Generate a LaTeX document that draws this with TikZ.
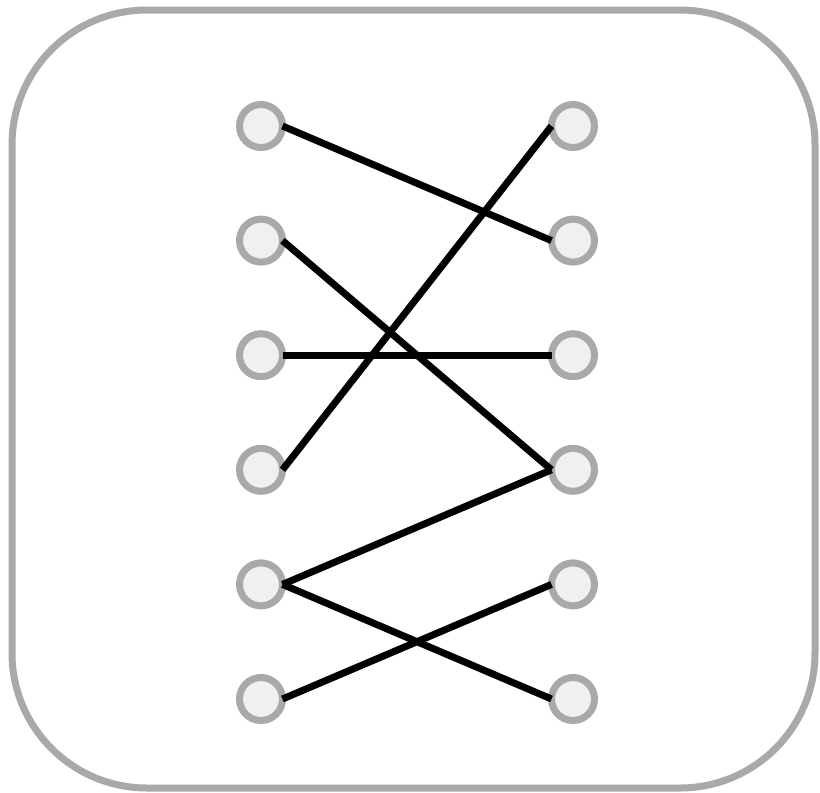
\documentclass[tikz,border=0pt]{standalone}
\definecolor{ringgray}{HTML}{ABA8A8}
\definecolor{dotfill}{HTML}{F0F0F0}
\tikzset{
   dot/.style={circle, draw=ringgray, fill=dotfill, line width=7pt, minimum size=43pt, inner sep=0pt, outer sep=0pt},
   link/.style={line width=7pt, black}
}
\begin{document}
\begin{tikzpicture}[x=1pt, y=-1pt]
   \useasboundingbox (0,0) rectangle (820,793);
   % frame
   \draw[ringgray, line width=7pt, rounded corners=135pt] (12,10) rectangle (815,788);
   % two columns of points
   \foreach \i in {1,...,6} {
      \node[dot] (L\i) at (261, 126+114.6*\i-114.6) {};
      \node[dot] (R\i) at (573, 126+114.6*\i-114.6) {};
   }
   % matching
   \draw[link] (L1.east) -- (R2.west);
   \draw[link] (L2.east) -- (R4.west);
   \draw[link] (L3.east) -- (R3.west);
   \draw[link] (L4.east) -- (R1.west);
   \draw[link] (L5.east) -- (R4.west);
   \draw[link] (L5.east) -- (R6.west);
   \draw[link] (L6.east) -- (R5.west);
\end{tikzpicture}
\end{document}
